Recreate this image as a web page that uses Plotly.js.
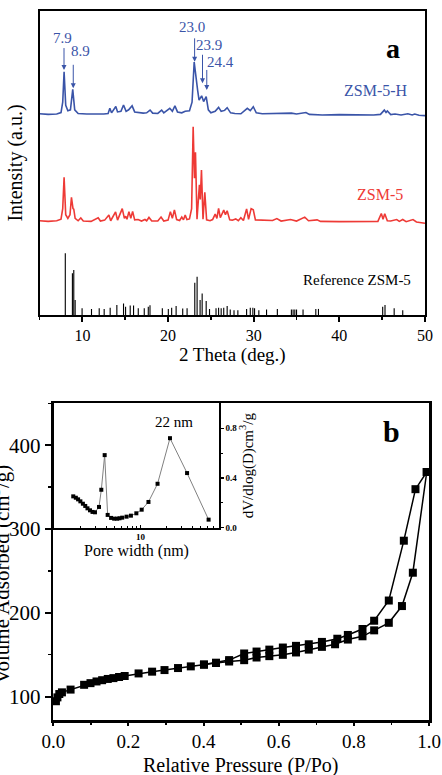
<!DOCTYPE html>
<html>
<head>
<meta charset="utf-8">
<script src="https://cdn.plot.ly/plotly-3.0.1.min.js"></script>
<style>html,body{margin:0;padding:0;background:#fff;}#chart{width:442px;height:775px;}</style>
</head>
<body>
<div id="chart"></div>
<script>
// ---------- Panel a: XRD ----------
const hTheta = [5.0,6.0,7.0,7.5,7.7,7.86,8.05,8.3,8.6,8.87,9.1,9.5,10.5,11.5,12.5,13.0,13.2,13.4,13.9,14.1,14.5,14.8,15.1,15.4,15.6,15.8,16.1,16.6,17.1,17.5,17.9,18.2,18.8,19.25,19.5,20.2,20.5,20.8,21.1,21.6,22.0,22.5,22.8,23.05,23.25,23.45,23.62,23.92,24.15,24.45,24.7,25.0,25.5,25.9,26.2,26.6,26.9,27.3,27.8,28.5,29.25,29.6,29.95,30.3,31.0,32.0,33.0,34.4,35.0,36.1,36.5,38.0,40.0,42.0,44.0,44.8,45.25,45.45,45.6,46.0,46.5,47.2,48.0,48.5,48.8,49.3,50.0];
const hInt = [66.2,66.0,66.1,66.6,70,80.0,69,67.2,67.5,74.2,67.5,66.3,66.1,66.0,66.1,66.3,68.0,66.5,68.6,66.8,67.0,69.1,67.0,67.5,68.2,68.8,66.8,66.6,66.4,66.5,67.4,66.4,66.3,67.4,66.5,68.0,67.0,68.8,66.8,66.5,67.0,67.2,70,83.2,77.5,74,70.7,72.1,70.2,71.8,67.5,66.5,67.0,68.3,67.0,67.3,68.2,66.5,66.3,66.2,68.0,67.2,68.5,66.5,66.2,66.3,66.2,66.4,66.1,66.6,66.0,65.8,65.9,65.8,65.8,66.0,67.4,66.6,67.1,65.9,66.1,65.8,66.2,65.8,66.1,65.7,65.6];

const zTheta = [5.0,6.0,7.0,7.5,7.7,7.86,8.05,8.3,8.55,8.72,8.9,8.99,9.15,9.5,9.81,10.1,11.0,11.84,12.1,12.6,13.09,13.3,13.87,14.1,14.65,14.9,15.05,15.2,15.43,15.65,15.86,16.1,16.5,16.9,17.3,17.5,17.77,18.1,18.8,19.18,19.5,20.0,20.27,20.5,20.74,21.0,21.35,21.6,21.8,22.0,22.2,22.5,22.75,22.93,23.08,23.2,23.38,23.66,23.76,23.9,24.08,24.29,24.5,24.9,25.2,25.5,25.7,25.9,26.1,26.5,26.7,26.9,27.2,27.5,27.9,28.2,28.5,28.8,29.17,29.4,29.7,29.95,30.2,31.0,31.5,32.2,32.7,33.2,34.3,35.0,35.96,36.4,37.4,37.8,40.0,42.0,44.5,44.9,45.1,45.3,45.6,46.0,46.7,47.0,47.4,47.8,48.6,49.0,50.0];
const zInt = [31.0,30.8,31.0,31.5,35,45.3,33,31.8,33,38.7,35,34.8,31.8,31.0,31.9,30.9,30.8,32.0,30.9,31.2,32.9,31.0,33.9,31.2,35.0,31.8,32.5,31.5,34.0,31.8,34.1,31.3,31.4,30.9,31.4,31.0,32.1,30.9,30.9,32.2,30.9,31.2,34.0,31.8,34.6,31.4,31.1,32.2,31.3,32.9,31.4,31.6,35,61.9,45,53.5,31.5,42.8,38,47.7,31.5,40.4,31.3,31.0,31.4,33.2,31.8,35.1,32.0,34.5,33.0,34.3,31.3,31.2,31.6,31.0,32.0,31.1,34.9,31.5,35.0,34.6,31.3,31.2,31.0,31.1,31.7,30.9,31.4,30.9,32.2,31.0,31.3,30.8,30.7,30.7,30.8,33.4,31.5,33.3,31.0,30.9,31.4,30.8,31.4,30.7,31.4,30.6,30.2];

const refTheta = [8.0,8.83,8.99,9.15,9.96,11.06,11.96,12.54,13.24,14.02,14.8,15.04,15.58,15.97,16.52,17.22,17.69,17.89,19.33,20.03,20.42,20.94,21.71,22.22,23.12,23.39,23.74,23.98,24.45,24.84,25.6,25.9,26.2,26.5,26.9,27.26,27.7,28.15,29.17,29.6,29.9,30.1,30.6,31.5,32.76,34.4,34.6,34.8,35.0,35.76,37.25,37.56,45.06,45.33,46.4,47.4];
const refInt = [20.3,13.7,14.8,4.9,2.2,2.0,2.2,2.0,2.4,3.3,3.8,2.7,3.1,3.1,2.2,2.2,2.7,3.2,2.2,2.0,2.4,3.0,2.1,2.2,10.6,12.6,4.9,7.1,4.6,2.0,2.2,2.4,2.2,2.4,3.0,1.8,1.6,1.6,2.0,2.4,2.4,2.2,1.6,1.8,2.0,1.8,1.8,1.8,1.8,1.8,2.0,2.0,2.7,3.3,2.2,1.6];

const peakLabels = ['7.9','8.9','23.0','23.9','24.4'];
const peakTheta  = [7.85,8.93,23.1,24.02,24.52];
const peakTop    = [80.6,74.6,83.3,76.2,74.0];

// ---------- Panel b: N2 isotherm ----------
const adsP = [0.007,0.011,0.016,0.023,0.046,0.082,0.099,0.115,0.13,0.145,0.16,0.175,0.19,0.227,0.263,0.296,0.332,0.366,0.401,0.433,0.468,0.508,0.541,0.575,0.611,0.646,0.680,0.715,0.750,0.784,0.823,0.854,0.893,0.928,0.957,0.994];
const adsV = [94.4,99,103,105,108.3,114,116,118,119.5,121,122,123.3,124.5,127.6,129.7,131.6,134,136,138,140,141.8,143.4,146.6,148.2,149.8,152.6,156,159.3,162.4,168,171.9,179,188,208,247.8,368];
const desP = [0.994,0.964,0.933,0.893,0.854,0.823,0.784,0.756,0.715,0.680,0.646,0.611,0.575,0.541,0.508,0.468,0.433,0.401];
const desV = [368,347.5,286,214.6,190.5,180.6,173.5,169,165.2,162.4,160.5,158.5,156,153.7,151.4,143.5,140.4,138.3];

// ---------- Inset: pore size distribution ----------
const poreD = [1.67,1.79,1.90,2.02,2.16,2.30,2.44,2.61,2.79,2.98,3.32,3.53,3.86,4.18,4.58,4.97,5.38,5.73,6.16,6.92,7.77,8.98,10.35,12.4,15.8,22.0,34.7,61.6];
const poreV = [0.253,0.242,0.229,0.213,0.194,0.176,0.157,0.141,0.128,0.125,0.168,0.306,0.584,0.104,0.080,0.074,0.074,0.077,0.082,0.090,0.098,0.117,0.146,0.208,0.354,0.72,0.44,0.066];
const insetYTicks = [0, 0.4, 0.8];
const insetYTickText = ['0.0', '0.4', '0.8'];

const BLUE = '#3a54a8', RED = '#ee3a36';
const W = 442, H = 775;
const px = v => v / W, py = v => 1 - v / H;
const FONT = "'Liberation Serif', 'Times New Roman', serif";

const traces = [
  {type:'bar', x: refTheta, y: refInt, width: 0.13, marker:{color:'black', line:{width:0}}, xaxis:'x', yaxis:'y', hoverinfo:'skip'},
  {type:'scatter', mode:'lines', x: zTheta, y: zInt, line:{color:RED, width:1.6}, xaxis:'x', yaxis:'y'},
  {type:'scatter', mode:'lines', x: hTheta, y: hInt, line:{color:BLUE, width:1.6}, xaxis:'x', yaxis:'y'},
  {type:'scatter', mode:'lines+markers', x: adsP, y: adsV, line:{color:'black', width:1.5}, marker:{symbol:'square', size:8, color:'black'}, xaxis:'x2', yaxis:'y2', cliponaxis:false},
  {type:'scatter', mode:'lines+markers', x: desP, y: desV, line:{color:'black', width:1.5}, marker:{symbol:'square', size:8, color:'black'}, xaxis:'x2', yaxis:'y2', cliponaxis:false},
  {type:'scatter', mode:'lines+markers', x: poreD, y: poreV, line:{color:'#808080', width:1}, marker:{symbol:'square', size:4, color:'black'}, xaxis:'x3', yaxis:'y3', cliponaxis:false}
];

const annotations = [];
const arrowLen = [7.7,8.2,8.2,9.9,7.1];
peakLabels.forEach((t, i) => {
  annotations.push({xref:'x', yref:'y', x: peakTheta[i], y: peakTop[i], axref:'x', ayref:'y', ax: peakTheta[i], ay: peakTop[i] + arrowLen[i], text:'', showarrow:true, arrowhead:2, arrowsize:1, arrowwidth:1, arrowcolor:BLUE, standoff:0, startstandoff:0});
});
const labPos = [[7.68,91.1],[9.79,86.9],[22.75,94.8],[24.82,88.9],[26.12,83.3]];
peakLabels.forEach((t, i) => {
  annotations.push({xref:'x', yref:'y', x: labPos[i][0], y: labPos[i][1], text: t, showarrow:false, font:{size:15, color:BLUE, family:FONT}});
});
annotations.push(
  {xref:'x', yref:'y', x:44.27, y:73.7, text:'ZSM-5-H', showarrow:false, font:{size:16, color:BLUE, family:FONT}},
  {xref:'x', yref:'y', x:44.8, y:39.5, text:'ZSM-5', showarrow:false, font:{size:16, color:RED, family:FONT}},
  {xref:'x', yref:'y', x:42.1, y:11.5, text:'Reference ZSM-5', showarrow:false, font:{size:15, color:'black', family:FONT}},
  {xref:'paper', yref:'paper', x:px(402), y:py(31), text:'<b>a</b>', showarrow:false, font:{size:28, color:'black', family:FONT}},
  {xref:'paper', yref:'paper', x:px(402), y:py(432), text:'<b>b</b>', showarrow:false, font:{size:30, color:'black', family:FONT}},
  {xref:'paper', yref:'paper', x:px(174), y:py(422), text:'22 nm', showarrow:false, font:{size:15, color:'black', family:FONT}},
  {xref:'paper', yref:'paper', x:px(0), y:py(575), text:'Volume Adsorbed (cm<sup>3</sup>/g)', textangle:-90, showarrow:false, xanchor:'center', yanchor:'middle', font:{size:21, color:'black', family:FONT}},
  {xref:'paper', yref:'paper', x:px(241), y:0, yshift:-3, borderpad:0, text:'Relative Pressure (P/Po)', showarrow:false, xanchor:'center', yanchor:'bottom', font:{size:20, color:'black', family:FONT}}
);

const axBase = {showgrid:false, zeroline:false, showline:true, linecolor:'black', mirror:true};

const layout = {
  width: W, height: H,
  margin:{l:0, r:0, t:0, b:0},
  paper_bgcolor:'white', plot_bgcolor:'white',
  showlegend:false,
  font:{family:FONT, color:'black'},
  xaxis: Object.assign({}, axBase, {
    domain:[px(39.6), px(425)], range:[5,50], anchor:'y', linewidth:2,
    tick0:0, dtick:10, ticks:'outside', ticklen:5, tickwidth:2, tickcolor:'black',
    minor:{dtick:5, ticks:'outside', ticklen:3, tickwidth:1.5, tickcolor:'black'},
    tickfont:{size:16}, title:{text:'2 Theta (deg.)', font:{size:19}, standoff:1}
  }),
  yaxis: Object.assign({}, axBase, {
    domain:[py(315), py(11)], range:[0,100], anchor:'x', linewidth:2,
    showticklabels:false, ticks:'', title:{text:'Intensity (a.u.)', font:{size:20}, standoff:10}
  }),
  xaxis2: Object.assign({}, axBase, {
    domain:[px(53.3), px(429)], range:[0,1], anchor:'y2', linewidth:2.5,
    tick0:0, dtick:0.2, tickformat:'.1f', ticks:'outside', ticklen:3, tickwidth:2, tickcolor:'black',
    minor:{dtick:0.1, ticks:'outside', ticklen:2, tickwidth:1.5, tickcolor:'black'},
    tickfont:{size:19}
  }),
  yaxis2: Object.assign({}, axBase, {
    domain:[py(720), py(403.3)], range:[72,450], anchor:'x2', linewidth:2.5,
    tick0:0, dtick:100, ticks:'outside', ticklen:6, tickwidth:2, tickcolor:'black',
    minor:{dtick:50, ticks:'outside', ticklen:3, tickwidth:1.5, tickcolor:'black'},
    tickfont:{size:21}
  }),
  xaxis3: Object.assign({}, axBase, {
    domain:[px(54), px(219)], type:'log', range:[0,1.91], anchor:'y3', linewidth:1.5,
    tickvals:[10], ticktext:['10'],
    ticks:'inside', ticklen:3, tickwidth:1, tickcolor:'black',
    minor:{tickvals:[2,3,4,5,6,7,8,9,20,30,40,50,60,70,80], ticks:'inside', ticklen:2, tickwidth:1, tickcolor:'black'},
    tickfont:{size:9, weight:'bold'}, title:{text:'Pore width (nm)', font:{size:16}, standoff:2}
  }),
  yaxis3: Object.assign({}, axBase, {
    domain:[py(528), py(403.3)], range:[-0.001,1.0], anchor:'x3', side:'right', linewidth:1.8,
    tickvals: insetYTicks, ticktext: insetYTickText, ticks:'outside', ticklen:3, tickwidth:1.2, tickcolor:'black',
    minor:{tickvals:[0.2,0.6], ticks:'outside', ticklen:2, tickwidth:1, tickcolor:'black'},
    tickfont:{size:9, weight:'bold'}, title:{text:'dV/dlog(D)cm<sup>3</sup>/g', font:{size:15}, standoff:3}
  }),
  annotations: annotations
};

Plotly.newPlot('chart', traces, layout, {staticPlot:true, displayModeBar:false});
</script>
</body>
</html>
